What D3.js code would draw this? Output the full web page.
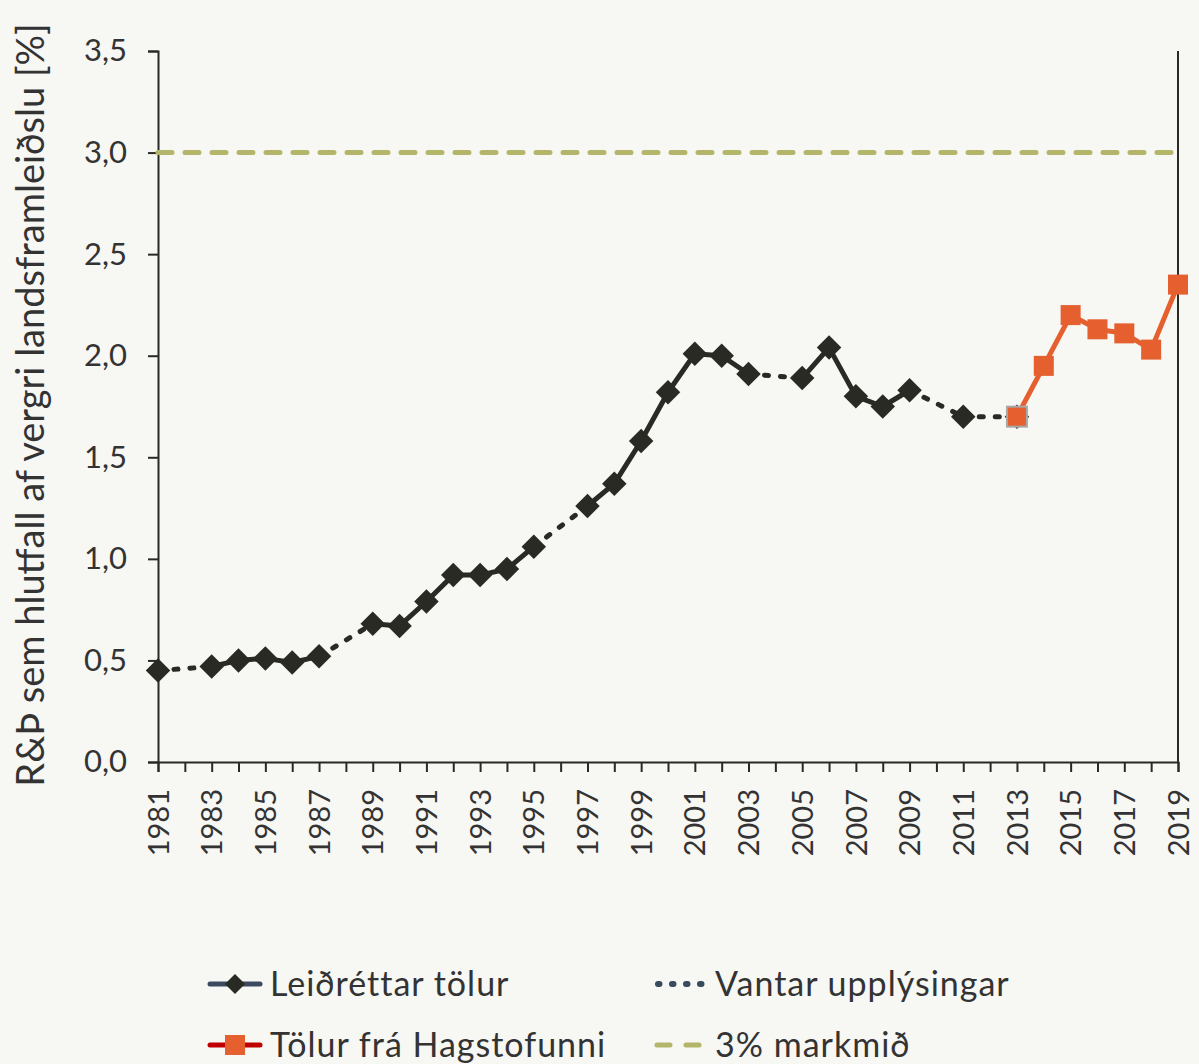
<html>
<head>
    <script src="https://d3js.org/d3.v7.min.js"></script>
    <style>
        body { margin: 0; background: #f7f7f3; }
        svg { font-family: Lato, "Open Sans", sans-serif; }
    </style>
</head>
<body>
<script>
// Leiðréttar tölur (svartir tíglar)
var blackYears  = [1981, 1983, 1984, 1985, 1986, 1987, 1989, 1990, 1991, 1992, 1993, 1994, 1995,
                   1997, 1998, 1999, 2000, 2001, 2002, 2003, 2005, 2006, 2007, 2008, 2009, 2011, 2013];
var blackValues = [0.45, 0.47, 0.50, 0.51, 0.49, 0.52, 0.68, 0.67, 0.79, 0.92, 0.92, 0.95, 1.06,
                   1.26, 1.37, 1.58, 1.82, 2.01, 2.00, 1.91, 1.89, 2.04, 1.80, 1.75, 1.83, 1.70, 1.70];
// Tölur frá Hagstofunni
var orangeYears  = [2013, 2014, 2015, 2016, 2017, 2018, 2019];
var orangeValues = [1.70, 1.95, 2.20, 2.13, 2.11, 2.03, 2.35];
var target = 3.0;
var yTicks = [0, 0.5, 1, 1.5, 2, 2.5, 3, 3.5];
var legendLabels = ["Leiðréttar tölur", "Vantar upplýsingar", "Tölur frá Hagstofunni", "3% markmið"];
var yTitle = "R&Þ sem hlutfall af vergri landsframleiðslu [%]";

var W = 1199, H = 1064;
var mLeft = 158, mRight = 1178, mTop = 51, mBottom = 762;
var dark = "#2a2a25", orange = "#e55f2f", green = "#b3b66a";

var svg = d3.select("body").append("svg")
    .attr("width", W).attr("height", H)
    .style("background", "#f7f7f3");

var x = d3.scaleLinear().domain([1981, 2019]).range([mLeft, mRight]);
var y = d3.scaleLinear().domain([0, 3.5]).range([mBottom, mTop]);

var black = blackYears.map((d, i) => ({year: d, v: blackValues[i]}));
var orng = orangeYears.map((d, i) => ({year: d, v: orangeValues[i]}));

// axes
var yAxis = d3.axisLeft(y).tickValues(yTicks).tickSize(10).tickFormat(d => d3.format(".1f")(d).replace(".", ","));
var gy = svg.append("g").attr("transform", "translate(" + mLeft + ",0)").call(yAxis);
gy.selectAll("text")
    .attr("x", -31).style("font-size", "31px").style("fill", "#333").style("font-family", "Lato");
gy.selectAll("line, path").attr("stroke", dark).attr("stroke-width", 2);

var years = d3.range(1981, 2020);
var xAxis = d3.axisBottom(x).tickValues(years).tickSize(10).tickFormat(d => d % 2 ? d : "");
var gx = svg.append("g").attr("transform", "translate(0," + mBottom + ")").call(xAxis);
gx.selectAll("line, path").attr("stroke", dark).attr("stroke-width", 2);
gx.selectAll("text")
    .attr("transform", "rotate(-90)")
    .attr("x", -27).attr("y", 0).attr("dy", "0.35em")
    .style("text-anchor", "end").style("font-size", "29px").style("fill", "#333").style("font-family", "Lato");

// right frame line
svg.append("line").attr("x1", mRight).attr("x2", mRight).attr("y1", mTop).attr("y2", mBottom)
    .attr("stroke", dark).attr("stroke-width", 2);

// y title
svg.append("text")
    .attr("transform", "translate(44,405) rotate(-90)")
    .style("text-anchor", "middle").style("font-size", "38px").style("fill", "#333")
    .text(yTitle);

// target line
svg.append("line").attr("x1", mLeft).attr("x2", mRight + 2).attr("y1", y(target)).attr("y2", y(target))
    .attr("stroke", green).attr("stroke-width", 5).attr("stroke-dasharray", "14,13")
    .attr("stroke-linecap", "round");

// black series: solid where consecutive years, dotted across gaps
var line = d3.line().x(d => x(d.year)).y(d => y(d.v));
for (var i = 0; i < black.length - 1; i++) {
    var a = black[i], b = black[i + 1];
    var gap = b.year - a.year > 1;
    svg.append("path").datum([a, b]).attr("d", line)
        .attr("fill", "none").attr("stroke", dark).attr("stroke-width", 5)
        .attr("stroke-linecap", "round")
        .attr("stroke-dasharray", gap ? "4,12" : null);
}
svg.append("path").datum(orng).attr("d", line)
    .attr("fill", "none").attr("stroke", orange).attr("stroke-width", 5);

var diamond = d3.symbol().type(d3.symbolSquare).size(300);
svg.selectAll(".dia").data(black).enter().append("path")
    .attr("d", diamond)
    .attr("transform", d => "translate(" + x(d.year) + "," + y(d.v) + ") rotate(45)")
    .attr("fill", dark);

svg.selectAll(".sq").data(orng).enter().append("rect")
    .attr("x", d => x(d.year) - 10).attr("y", d => y(d.v) - 10)
    .attr("width", 20).attr("height", 20)
    .attr("fill", orange)
    .attr("stroke", (d, i) => i == 0 ? "#a8a8a8" : "none").attr("stroke-width", 2);

// legend
var lg = svg.append("g").style("font-size", "34px").style("letter-spacing", "1px").style("fill", "#333");
var items = [
    {x: 210, y: 984, type: "dia"}, {x: 655, y: 984, type: "dot"},
    {x: 210, y: 1045, type: "sq"}, {x: 655, y: 1045, type: "dash"}
];
items.forEach(function (it, i) {
    if (it.type == "dia") {
        lg.append("line").attr("x1", it.x).attr("x2", it.x + 50).attr("y1", it.y).attr("y2", it.y)
            .attr("stroke", "#3b4a5e").attr("stroke-width", 5).attr("stroke-linecap", "round");
        lg.append("path").attr("d", d3.symbol().type(d3.symbolSquare).size(200))
            .attr("transform", "translate(" + (it.x + 25) + "," + it.y + ") rotate(45)").attr("fill", dark);
    } else if (it.type == "sq") {
        lg.append("line").attr("x1", it.x).attr("x2", it.x + 50).attr("y1", it.y).attr("y2", it.y)
            .attr("stroke", "#c00000").attr("stroke-width", 5).attr("stroke-linecap", "round");
        lg.append("rect").attr("x", it.x + 15).attr("y", it.y - 10).attr("width", 20).attr("height", 20)
            .attr("fill", orange);
    } else if (it.type == "dot") {
        lg.append("line").attr("x1", it.x + 3).attr("x2", it.x + 50).attr("y1", it.y).attr("y2", it.y)
            .attr("stroke", "#3b4a5e").attr("stroke-width", 6).attr("stroke-linecap", "round")
            .attr("stroke-dasharray", "1.5,12.5");
    } else {
        lg.append("line").attr("x1", it.x + 2).attr("x2", it.x + 50).attr("y1", it.y).attr("y2", it.y)
            .attr("stroke", green).attr("stroke-width", 5).attr("stroke-linecap", "round")
            .attr("stroke-dasharray", "13,16");
    }
    lg.append("text").attr("x", it.x + 60).attr("y", it.y).attr("dy", "0.36em").text(legendLabels[i]);
});
</script>
</body>
</html>
